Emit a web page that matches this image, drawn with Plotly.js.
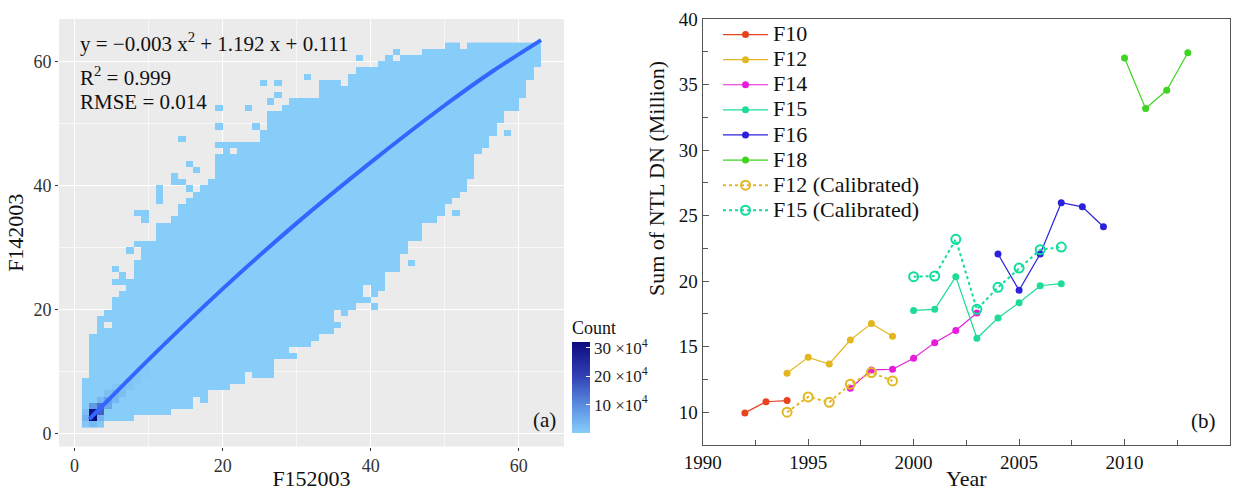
<!DOCTYPE html>
<html>
<head>
<meta charset="utf-8">
<script src="https://cdn.plot.ly/plotly-3.0.1.min.js"></script>
<style>
html, body { margin: 0; padding: 0; background: #ffffff; }
#chart { width: 1248px; height: 491px; }
</style>
</head>
<body>
<div id="chart"></div>
<script>
// ---------------- Panel (a): 2D histogram F152003 vs F142003 ----------------
// Columns are DN bins 1..62 (bin c spans [c, c+1]); for each column, the
// lowest filled row edge and the (exclusive) top edge of the filled band.
const columnLowerEdge = [
  1, 1, 1, 2, 2, 2, 2, 3, 3, 3,
  3, 3, 4, 4, 4, 6, 5, 7, 7, 7,
  8, 8, 10, 9, 9, 9, 12, 12, 14, 14,
  14, 15, 16, 16, 20, 19, 20, 21, 24, 22,
  23, 26, 26, 29, 31, 31, 34, 34, 35, 37,
  38, 39, 41, 45, 46, 48, 50, 52, 52, 54,
  57, 59
];
const columnUpperEdge = [
  9, 16, 19, 20, 22, 23, 25, 28, 30, 31,
  34, 34, 35, 37, 38, 39, 40, 41, 47, 47,
  47, 47, 47, 47, 49, 52, 52, 53, 54, 54,
  54, 54, 57, 57, 57, 56, 58, 59, 59, 59,
  60, 61, 60, 61, 61, 61, 62, 62, 62, 63,
  63, 62, 63, 63, 63, 63, 63, 63, 63, 63,
  63, 63
];
// isolated occupied bins outside the band [column, row]
const isolatedBins = [
  [5, 24], [6, 24], [6, 25], [5, 26], [7, 29], [8, 30], [9, 30],
  [8, 35], [9, 35], [9, 34], [11, 37], [11, 38], [11, 39],
  [13, 40], [13, 41], [14, 40], [15, 39], [15, 43], [16, 42], [14, 47],
  [19, 49], [19, 52], [23, 52], [24, 49], [25, 56], [27, 56], [26, 53], [27, 54],
  [31, 57], [38, 60], [43, 61],
  [29, 12], [35, 17], [39, 21], [40, 20], [45, 27], [51, 35], [58, 48]
];
// empty bins inside the band [column, row]
const emptyBins = [[4, 17], [19, 45], [21, 45]];
// typical count of a sparse bin
const sparseBinCount = 1200;
// high-density bins near the origin [column, row, count]
const denseBins = [
  [2, 2, 321000], [2, 3, 300000], [3, 3, 160000], [3, 4, 140000], [2, 4, 80000],
  [3, 2, 40000], [1, 2, 40000], [2, 1, 30000], [1, 3, 25000], [1, 1, 12000], [3, 1, 10000],
  [4, 4, 60000], [4, 5, 65000], [3, 5, 35000], [5, 5, 35000], [5, 6, 35000], [4, 6, 22000],
  [6, 6, 22000], [6, 7, 22000], [5, 7, 14000], [7, 7, 14000], [7, 8, 14000],
  [8, 8, 9000], [8, 9, 9000], [9, 9, 6000], [9, 10, 6000]
];
const countTickValues = [100000, 200000, 300000];
const countTickLabels = ['10 ×10<sup>4</sup>', '20 ×10<sup>4</sup>', '30 ×10<sup>4</sup>'];

// fitted curve
const fitX = [2, 10, 20, 30, 40, 50, 56.6, 63];
const fitY = [2.3, 11.9, 23.3, 33.9, 43.7, 52.9, 58.5, 63.4];

// ---------------- Panel (b): Sum of NTL DN per satellite ----------------
const yearsF10 = [1992, 1993, 1994];
const sumF10 = [9.95, 10.8, 10.89];
const yearsF12 = [1994, 1995, 1996, 1997, 1998, 1999];
const sumF12 = [12.97, 14.19, 13.68, 15.51, 16.76, 15.79];
const yearsF14 = [1997, 1998, 1999, 2000, 2001, 2002, 2003];
const sumF14 = [11.83, 13.23, 13.28, 14.12, 15.31, 16.23, 17.57];
const yearsF15 = [2000, 2001, 2002, 2003, 2004, 2005, 2006, 2007];
const sumF15 = [17.77, 17.85, 20.34, 15.64, 17.19, 18.36, 19.65, 19.81];
const yearsF16 = [2004, 2005, 2006, 2007, 2008, 2009];
const sumF16 = [22.07, 19.30, 22.07, 25.98, 25.67, 24.15];
const yearsF18 = [2010, 2011, 2012, 2013];
const sumF18 = [37.03, 33.17, 34.56, 37.43];
const sumF12Calibrated = [10.0, 11.17, 10.76, 12.14, 13.03, 12.39];
const sumF15Calibrated = [20.34, 20.39, 23.19, 17.85, 19.53, 21.0, 22.40, 22.6];

// ---------------- build heatmap matrix ----------------
const nBins = columnLowerEdge.length;
const binCenters = [];
for (let i = 0; i < nBins; i++) binCenters.push(i + 1 + 0.5);
const z = [];
for (let r = 0; r < nBins; r++) { z.push(new Array(nBins).fill(null)); }
for (let c = 1; c <= nBins; c++) {
  for (let r = columnLowerEdge[c - 1]; r < columnUpperEdge[c - 1]; r++) {
    z[r - 1][c - 1] = sparseBinCount;
  }
}
isolatedBins.forEach(([c, r]) => { z[r - 1][c - 1] = sparseBinCount; });
emptyBins.forEach(([c, r]) => { z[r - 1][c - 1] = null; });
denseBins.forEach(([c, r, n]) => { z[r - 1][c - 1] = n; });

const W = 1248, H = 491;
const fx = p => p / W;
const fy = p => 1 - p / H;
const SERIF = "'Liberation Serif', serif";

const traces = [
  {
    type: 'heatmap', x: binCenters, y: binCenters, z: z,
    xaxis: 'x', yaxis: 'y',
    zmin: 0, zmax: 321000, zsmooth: false,
    colorscale: [[0, '#87CEFA'], [0.3, '#5B8EE2'], [0.62, '#3342B4'], [1, '#0B0B7E']],
    hoverinfo: 'skip', showlegend: false,
    colorbar: {
      x: fx(572), xanchor: 'left', xpad: 0,
      y: fy(433), yanchor: 'bottom', ypad: 0,
      len: 116, lenmode: 'pixels', thickness: 18, thicknessmode: 'pixels',
      outlinewidth: 0,
      tickvals: countTickValues, ticktext: countTickLabels,
      ticks: 'inside', ticklen: 4, tickcolor: '#FFFFFF', tickwidth: 1,
      tickfont: { family: SERIF, size: 17, color: '#222222' },
      title: { text: 'Count', side: 'top', font: { family: SERIF, size: 18, color: '#111111' } }
    }
  },
  {
    type: 'scatter', mode: 'lines', x: fitX, y: fitY,
    xaxis: 'x', yaxis: 'y',
    line: { color: '#3366FF', width: 4, shape: 'spline', smoothing: 0.6 },
    hoverinfo: 'skip', showlegend: false
  }
];

function series(name, xs, ys, color, calibrated) {
  return {
    type: 'scatter', mode: 'lines+markers',
    name: '<span style="font-size:22px">' + name + '</span>', x: xs, y: ys,
    xaxis: 'x2', yaxis: 'y2',
    line: calibrated ? { color: color, width: 2, dash: 'dot' } : { color: color, width: 1.2 },
    marker: calibrated
      ? { symbol: 'circle-open', size: 9, color: color, line: { width: 2, color: color } }
      : { symbol: 'circle', size: 7, color: color }
  };
}
traces.push(series('F10', yearsF10, sumF10, '#E8431F', false));
traces.push(series('F12', yearsF12, sumF12, '#E2B722', false));
traces.push(series('F14', yearsF14, sumF14, '#E61EDC', false));
traces.push(series('F15', yearsF15, sumF15, '#1EDC96', false));
traces.push(series('F16', yearsF16, sumF16, '#2A22DC', false));
traces.push(series('F18', yearsF18, sumF18, '#3FD422', false));
traces.push(series('F12 (Calibrated)', yearsF12, sumF12Calibrated, '#E2B722', true));
traces.push(series('F15 (Calibrated)', yearsF15, sumF15Calibrated, '#10DC9E', true));

const tickFontA = { family: SERIF, size: 18, color: '#333333' };
const tickFontB = { family: SERIF, size: 19, color: '#111111' };

const layout = {
  width: W, height: H,
  margin: { l: 0, r: 0, t: 0, b: 0 },
  paper_bgcolor: '#FFFFFF', plot_bgcolor: '#FFFFFF',
  showlegend: true,
  font: { family: SERIF, color: '#111111' },
  xaxis: {
    domain: [fx(59), fx(564)], anchor: 'y',
    range: [-2.1, 66.1], tickvals: [0, 20, 40, 60],
    showgrid: true, gridcolor: '#FFFFFF', gridwidth: 1.3,
    minor: { dtick: 10, showgrid: true, gridcolor: '#FFFFFF', gridwidth: 0.6 },
    zeroline: false, showline: false,
    ticks: 'outside', ticklen: 3, tickwidth: 1.1, tickcolor: '#333333',
    tickfont: tickFontA,
    title: { text: 'F152003', font: { family: SERIF, size: 22, color: '#111111' }, standoff: 6 }
  },
  yaxis: {
    domain: [fy(446.5), fy(19)], anchor: 'x',
    range: [-2.1, 66.8], tickvals: [0, 20, 40, 60],
    showgrid: true, gridcolor: '#FFFFFF', gridwidth: 1.3,
    minor: { dtick: 10, showgrid: true, gridcolor: '#FFFFFF', gridwidth: 0.6 },
    zeroline: false, showline: false,
    ticks: 'outside', ticklen: 3, tickwidth: 1.1, tickcolor: '#333333',
    tickfont: tickFontA,
    title: { text: 'F142003', font: { family: SERIF, size: 22, color: '#111111' }, standoff: 3 }
  },
  xaxis2: {
    domain: [fx(702.7), fx(1230)], anchor: 'y2',
    range: [1990, 2015], dtick: 5, tick0: 1990,
    showgrid: false, zeroline: false,
    showline: true, mirror: true, linecolor: '#555555', linewidth: 1.2,
    ticks: 'inside', ticklen: 6, tickwidth: 1.1, tickcolor: '#555555',
    minor: { dtick: 2.5, ticks: 'inside', ticklen: 5, tickwidth: 1, tickcolor: '#555555' },
    tickfont: tickFontB,
    title: { text: 'Year', font: { family: SERIF, size: 22, color: '#111111' }, standoff: 4 }
  },
  yaxis2: {
    domain: [fy(445), fy(19)], anchor: 'x2',
    range: [7.5, 40], dtick: 5, tick0: 0,
    showgrid: false, zeroline: false,
    showline: true, mirror: true, linecolor: '#555555', linewidth: 1.2,
    ticks: 'inside', ticklen: 6, tickwidth: 1.1, tickcolor: '#555555',
    minor: { dtick: 2.5, ticks: 'inside', ticklen: 5, tickwidth: 1, tickcolor: '#555555' },
    tickfont: tickFontB
  },
  legend: {
    x: fx(718), xanchor: 'left', y: fy(17), yanchor: 'top',
    bgcolor: 'rgba(0,0,0,0)', borderwidth: 0,
    font: { family: SERIF, size: 17, color: '#111111' },
    itemwidth: 45,
    traceorder: 'normal'
  },
  shapes: [
    { type: 'rect', xref: 'x domain', yref: 'y domain', x0: 0, x1: 1, y0: 0, y1: 1,
      fillcolor: '#EBEBEB', line: { width: 0 }, layer: 'below' }
  ],
  annotations: [
    { text: 'y = −0.003 x<sup>2</sup> + 1.192 x + 0.111', xref: 'paper', yref: 'paper',
      x: fx(78), y: fy(42), xanchor: 'left', yanchor: 'middle', showarrow: false,
      font: { family: SERIF, size: 21, color: '#111111' } },
    { text: 'R<sup>2</sup> = 0.999', xref: 'paper', yref: 'paper',
      x: fx(78), y: fy(77), xanchor: 'left', yanchor: 'middle', showarrow: false,
      font: { family: SERIF, size: 21, color: '#111111' } },
    { text: 'RMSE = 0.014', xref: 'paper', yref: 'paper',
      x: fx(78), y: fy(102), xanchor: 'left', yanchor: 'middle', showarrow: false,
      font: { family: SERIF, size: 21, color: '#111111' } },
    { text: '(a)', xref: 'paper', yref: 'paper',
      x: fx(544), y: fy(420), xanchor: 'center', yanchor: 'middle', showarrow: false,
      font: { family: SERIF, size: 21, color: '#111111' } },
    { text: '(b)', xref: 'paper', yref: 'paper',
      x: fx(1203), y: fy(421), xanchor: 'center', yanchor: 'middle', showarrow: false,
      font: { family: SERIF, size: 21, color: '#111111' } },
    { text: 'Sum of NTL DN (Million)', xref: 'paper', yref: 'paper',
      x: fx(656), y: fy(179), xanchor: 'center', yanchor: 'middle', textangle: -90, showarrow: false,
      font: { family: SERIF, size: 22, color: '#111111' } }
  ]
};

Plotly.newPlot('chart', traces, layout, { displayModeBar: false, staticPlot: true });
</script>
</body>
</html>
